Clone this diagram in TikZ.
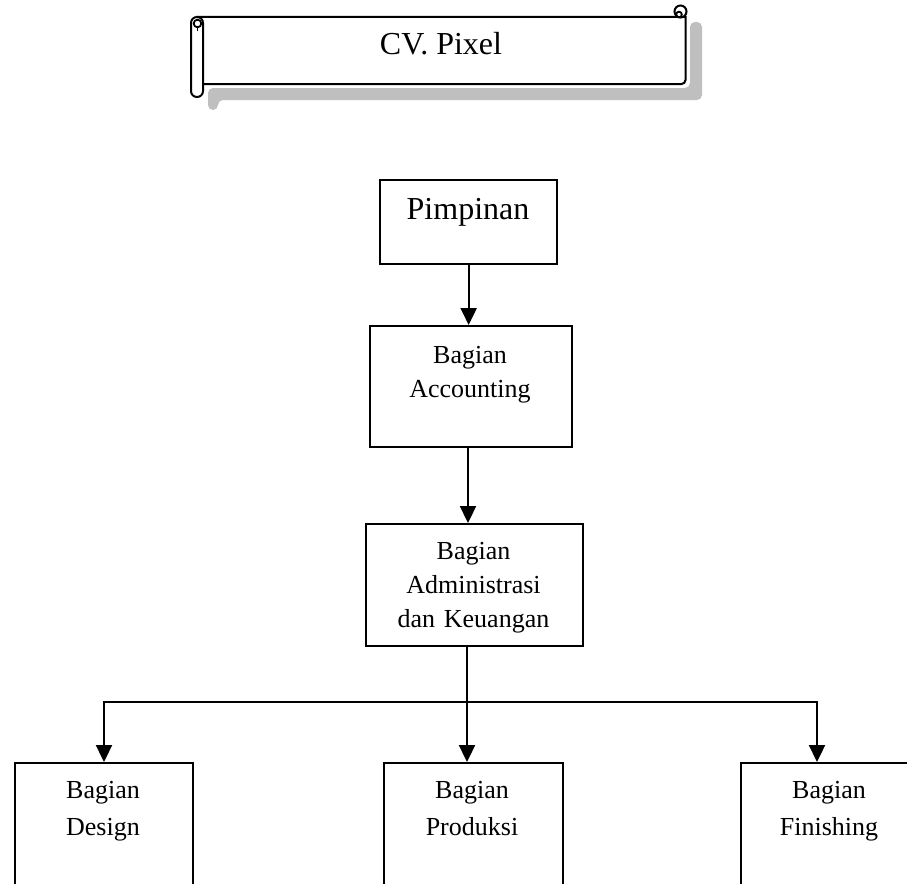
\documentclass[tikz,border=0pt]{standalone}
\usepackage{fontspec}
\setmainfont{Liberation Serif}
\usetikzlibrary{arrows.meta}

\definecolor{shadowgray}{RGB}{191,191,191}

\tikzset{
  frame/.style={draw=black, line width=2.3pt, rectangle, inner sep=0pt, anchor=north west},
  label26/.style={font=\fontsize{26}{34}\selectfont, align=center, text width=260pt, inner sep=0pt, anchor=base},
  label26wide/.style={label26, font=\fontsize{26}{37}\selectfont},
  label32/.style={font=\fontsize{32}{38}\selectfont, inner sep=0pt, anchor=base},
  tip/.style={Triangle[length=17pt,width=16pt]},
  link/.style={line width=2.3pt, -{Triangle[length=17pt,width=16pt]}},
  scrollline/.style={draw=black, line width=2pt, fill=white},
}

\begin{document}
\begin{tikzpicture}[x=1pt, y=-1pt]
  \clip (0,0) rectangle (907,883);
  \fill[white] (0,0) rectangle (907,883);

  % --- title scroll: shadow first, then the scroll on top
  \fill[shadowgray, rounded corners=5]
    (208,88) -- (690,88) -- (690,22) -- (702,22) -- (702,100)
    -- (218,100) -- (218,110) -- (208,110) -- cycle;
  \path[scrollline] (197,17) -- (685.5,17) -- (685.5,80)
    arc[start angle=0, end angle=90, radius=4] -- (197,84) -- cycle;
  \path[scrollline, rounded corners=5.9] (191,17) rectangle (203,97);
  \draw[line width=1.8pt] (197.5,23.5) circle[radius=3.8];
  \draw[line width=1.8pt] (197.5,27.3) -- (197.5,31);
  \path[scrollline] (680.5,11.5) circle[radius=6];
  \draw[line width=1.8pt] (679,14.5) circle[radius=2.8];
  \node[label32] (title) at (441,55) {CV. Pixel};

  % --- boxes
  \node[frame, minimum width=177pt, minimum height=84pt]  (pim)  at (379,179) {};
  \node[frame, minimum width=202pt, minimum height=121pt] (acc)  at (369,325) {};
  \node[frame, minimum width=217pt, minimum height=122pt] (adm)  at (365,523) {};
  \node[frame, minimum width=178pt, minimum height=160pt] (des)  at (14,762) {};
  \node[frame, minimum width=179pt, minimum height=160pt] (prod) at (383,762) {};
  \node[frame, minimum width=178pt, minimum height=160pt] (fin)  at (740,762) {};

  % --- box texts (anchored on the first baseline)
  \node[label32]     (pimtext)  at (468,219) {Pimpinan};
  \node[label26]     (acctext)  at (470,363) {Bagian\\Accounting};
  \node[label26]     (admtext)  at (473.5,559) {Bagian\\Administrasi\\dan Keuangan};
  \node[label26wide] (destext)  at (103,798) {Bagian\\Design};
  \node[label26wide] (prodtext) at (472,798) {Bagian\\Produksi};
  \node[label26wide] (fintext)  at (829,798) {Bagian\\Finishing};

  % --- connectors
  \coordinate (jd) at (104,702);
  \coordinate (jm) at (467,702);
  \coordinate (jf) at (817,702);
  \coordinate (ja) at (468,446);

  \draw[link] (pim.south) -- (pim.south |- acc.north);
  \draw[link] (ja |- acc.south) -- (ja |- adm.north);
  \draw[link] (jm |- adm.south) -- (jm |- prod.north);
  \draw[line width=2.3pt, {Triangle[length=17pt,width=16pt]}-{Triangle[length=17pt,width=16pt]}]
    (jd |- des.north) -- (jd) -- (jf) -- (jf |- fin.north);
\end{tikzpicture}
\end{document}
